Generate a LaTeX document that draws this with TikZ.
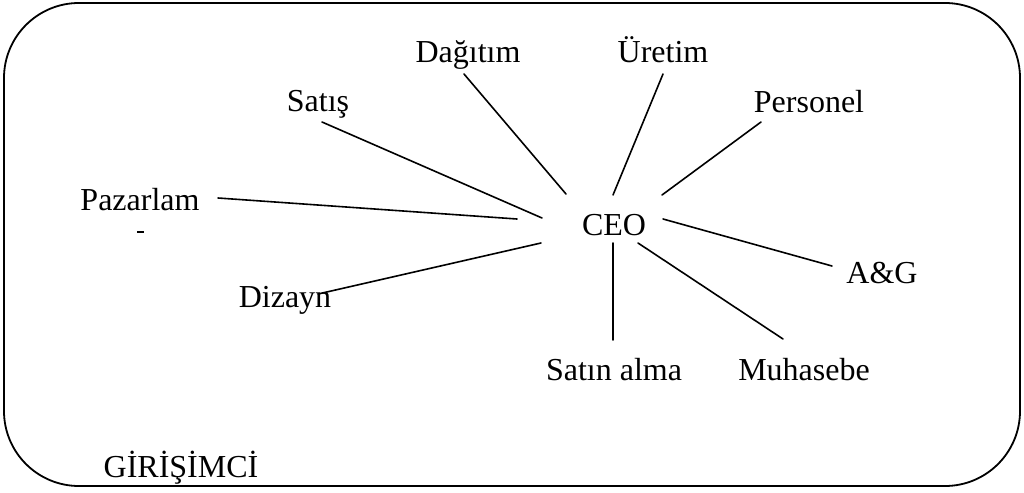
\documentclass[tikz,border=0pt]{standalone}
\usepackage{fontspec}
\setmainfont{Liberation Serif}
\begin{document}
\begin{tikzpicture}[x=1pt,y=-1pt,
  lbl/.style={anchor=base, inner sep=0pt, font=\fontsize{32}{38}\selectfont},
  conn/.style={line width=1.6pt, line cap=round},
  frame/.style={line width=1.8pt, rounded corners=75pt}]
\useasboundingbox (0,0) rectangle (1024,492);
\draw[frame] (4,3) rectangle (1020,486);
% labels
\node[lbl] (dagitim) at (468,63) {Dağıtım};
\node[lbl] (uretim) at (663,63) {Üretim};
\node[lbl] (satis) at (318,112) {Satış};
\node[lbl] (personel) at (809,113) {Personel};
\node[lbl] (pazarlam) at (140,210) {Pazarlam};
\node[lbl] (ceo) at (614,235) {CEO};
\node[lbl] (ag) at (882,283) {A\&G};
\node[lbl] (dizayn) at (285,307) {Dizayn};
\node[lbl] (satinalma) at (614,380) {Satın alma};
\node[lbl] (muhasebe) at (804,380) {Muhasebe};
\node[lbl] (girisimci) at (181,477) {GİRİŞİMCİ};
% connector ends
\coordinate (d1) at (464,74);   \coordinate (d2) at (566,194);
\coordinate (u1) at (663,74);   \coordinate (u2) at (613,195);
\coordinate (p1) at (761,122);  \coordinate (p2) at (662,195);
\coordinate (s1) at (322,122);  \coordinate (s2) at (542,218);
\coordinate (z1) at (218,198);  \coordinate (z2) at (517,219);
\coordinate (y1) at (318,294);  \coordinate (y2) at (541,243);
\coordinate (a1) at (613,340);  \coordinate (a2) at (613,243);
\coordinate (m1) at (783,339);  \coordinate (m2) at (638,243);
\coordinate (g1) at (832,266);  \coordinate (g2) at (663,219);
\draw[conn] (d1) -- (d2);
\draw[conn] (u1) -- (u2);
\draw[conn] (p1) -- (p2);
\draw[conn] (s1) -- (s2);
\draw[conn] (z1) -- (z2);
\draw[conn] (y1) -- (y2);
\draw[conn] (a1) -- (a2);
\draw[conn] (m1) -- (m2);
\draw[conn] (g1) -- (g2);
% small mark below Pazarlam
\coordinate (k1) at (137,232); \coordinate (k2) at (144,232);
\draw[line width=1.6pt] (k1) -- (k2);
\end{tikzpicture}
\end{document}
